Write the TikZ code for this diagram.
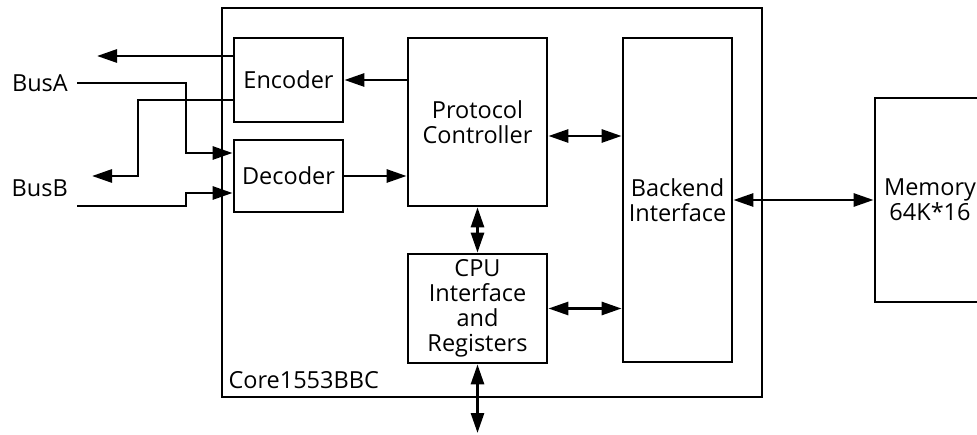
\documentclass[tikz,border=0pt]{standalone}
\usepackage{fontspec}
\setmainfont{Open Sans}
\usepackage{tikz}
\usetikzlibrary{positioning}
\usetikzlibrary{arrows.meta}

\tikzset{
    blk/.style={draw,line width=2.8pt,align=center,inner sep=0pt},
    sig/.style={line width=2.8pt,-{Triangle[length=20pt,width=13pt]}},
    bidir/.style={line width=2.8pt,{Triangle[length=20pt,width=13pt]}-{Triangle[length=20pt,width=13pt]}},
}

\begin{document}
\begin{tikzpicture}[x=1pt,y=-1pt,font=\fontsize{23.5}{25}\selectfont]
    \useasboundingbox (0,0) rectangle (977,435);
    \clip (0,0) rectangle (977,435);

    % core frame
    \node[blk,minimum width=540pt,minimum height=389pt] (core) at (492,202.5) {};
    \node[anchor=west] (corelbl) at (225,380) {Core1553BBC};

    % blocks
    \node[blk,minimum width=109pt,minimum height=84pt] (enc) at (288.5,80) {Encoder};
    \node[blk,minimum width=109pt,minimum height=72pt] (dec) at (288.5,176) {Decoder};
    \node[blk,minimum width=139pt,minimum height=168pt] (proto) at (477.5,122) {Protocol\\Controller};
    \node[blk,minimum width=139pt,minimum height=109pt] (cpu) at (477.5,308.5) {CPU\\Interface\\and\\Registers};
    \node[blk,minimum width=109pt,minimum height=324pt] (backend) at (677.5,200) {Backend\\Interface};
    \node[blk,minimum width=110pt,minimum height=204pt] (mem) at (930,200) {Memory\\64K*16};

    % bus labels
    \node[anchor=east,inner sep=9pt] (busA) at (77,83) {BusA};
    \node[anchor=east,inner sep=9pt] (busB) at (77,188) {BusB};

    % tx lines
    \coordinate (txA) at (97,56);
    \coordinate (txB) at (92,176);
    \coordinate (eB) at (138,100);
    \draw[sig] (enc.west |- txA) -- (txA);
    \draw[sig] (eB -| enc.west) -- (eB) |- (txB);

    % rx lines
    \coordinate (jA) at (186,153);
    \coordinate (bB) at (77,206);
    \coordinate (jB) at (186,193);
    \draw[sig] (busA.east) -| (jA) -- (jA -| dec.west);
    \draw[sig] (bB) -| (jB) -- (jB -| dec.west);

    % internal links
    \coordinate (pb) at (590,136);
    \coordinate (cpuBus) at (477.5,433);
    \draw[sig] (proto.west |- enc.east) -- (enc.east);
    \draw[sig] (dec.east) -- (dec.east -| proto.west);
    \draw[bidir] (pb -| proto.east) -- (pb -| backend.west);
    \draw[bidir] (proto.south) -- (cpu.north);
    \draw[bidir] (cpu.east) -- (cpu.east -| backend.west);
    \draw[bidir] (backend.east) -- (mem.west);
    \draw[bidir] (cpu.south) -- (cpuBus);
\end{tikzpicture}
\end{document}
